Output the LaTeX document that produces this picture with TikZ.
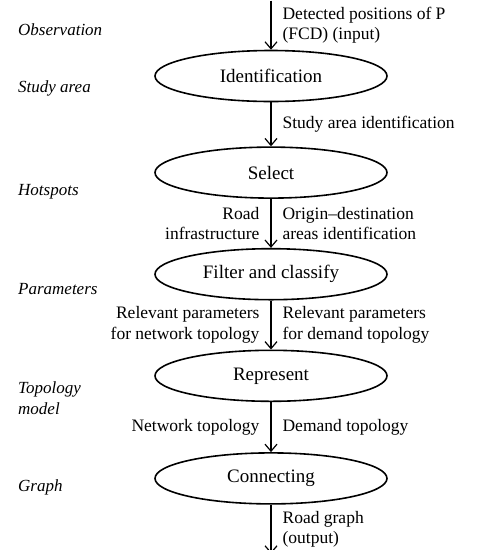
\documentclass[tikz,border=0pt]{standalone}
\usepackage{fontspec}
\setmainfont{Liberation Serif}
\usetikzlibrary{positioning,shapes.geometric,arrows.meta}

\begin{document}
\begin{tikzpicture}[x=1pt, y=1pt,
      every node/.style={font=\fontsize{17.5}{20.5}\selectfont},
      stage/.style={draw, ellipse, line width=1.6pt,
                    minimum width=232pt, minimum height=51pt, inner sep=0pt,
                    font=\fontsize{19}{22}\selectfont},
      arrow/.style={-{Straight Barb[length=7pt,width=12pt]}, line width=1.2pt},
      rlbl/.style={midway, right=11pt, inner sep=0pt, align=left},
      llbl/.style={midway, left=11pt, inner sep=0pt, align=right},
      level/.style={anchor=west, inner sep=0pt, align=left,
                    font=\fontsize{17}{20.5}\selectfont\itshape},
  ]
    \useasboundingbox (0,0) rectangle (483,-550);

    \node[stage] (ident) at (271,-76) {Identification};
    \node[stage, below=44pt of ident] (select) {Select};
    \node[stage, below=49pt of select] (filter) {Filter and classify};
    \node[stage, below=49pt of filter] (repr) {Represent};
    \node[stage, below=50pt of repr] (connect) {Connecting};
    \coordinate[above=49pt of ident.north] (in);
    \coordinate[below=49pt of connect.south] (out);

    \draw[arrow] (in) -- (ident.north)
      node[rlbl] {Detected positions of P\\(FCD) (input)};
    \draw[arrow] (ident) -- (select)
      node[rlbl] {Study area identification};
    \draw[arrow] (select) -- (filter)
      node[llbl] {Road\\infrastructure}
      node[rlbl] {Origin–destination\\areas identification};
    \draw[arrow] (filter) -- (repr)
      node[llbl] {Relevant parameters\\for network topology}
      node[rlbl] {Relevant parameters\\for demand topology};
    \draw[arrow] (repr) -- (connect)
      node[llbl] {Network topology}
      node[rlbl] {Demand topology};
    \draw[arrow] (connect.south) -- (out)
      node[rlbl] {Road graph\\(output)};

    % level names on the left
    \node[level] (obs) at (18,-30) {Observation};
    \node[level] (area) at (18,-88) {Study area};
    \node[level] (hot) at (18,-192) {Hotspots};
    \node[level] (par) at (18,-289) {Parameters};
    \node[level] (topo) at (18,-398) {Topology\\model};
    \node[level] (graph) at (18,-487) {Graph};
  \end{tikzpicture}
\end{document}
